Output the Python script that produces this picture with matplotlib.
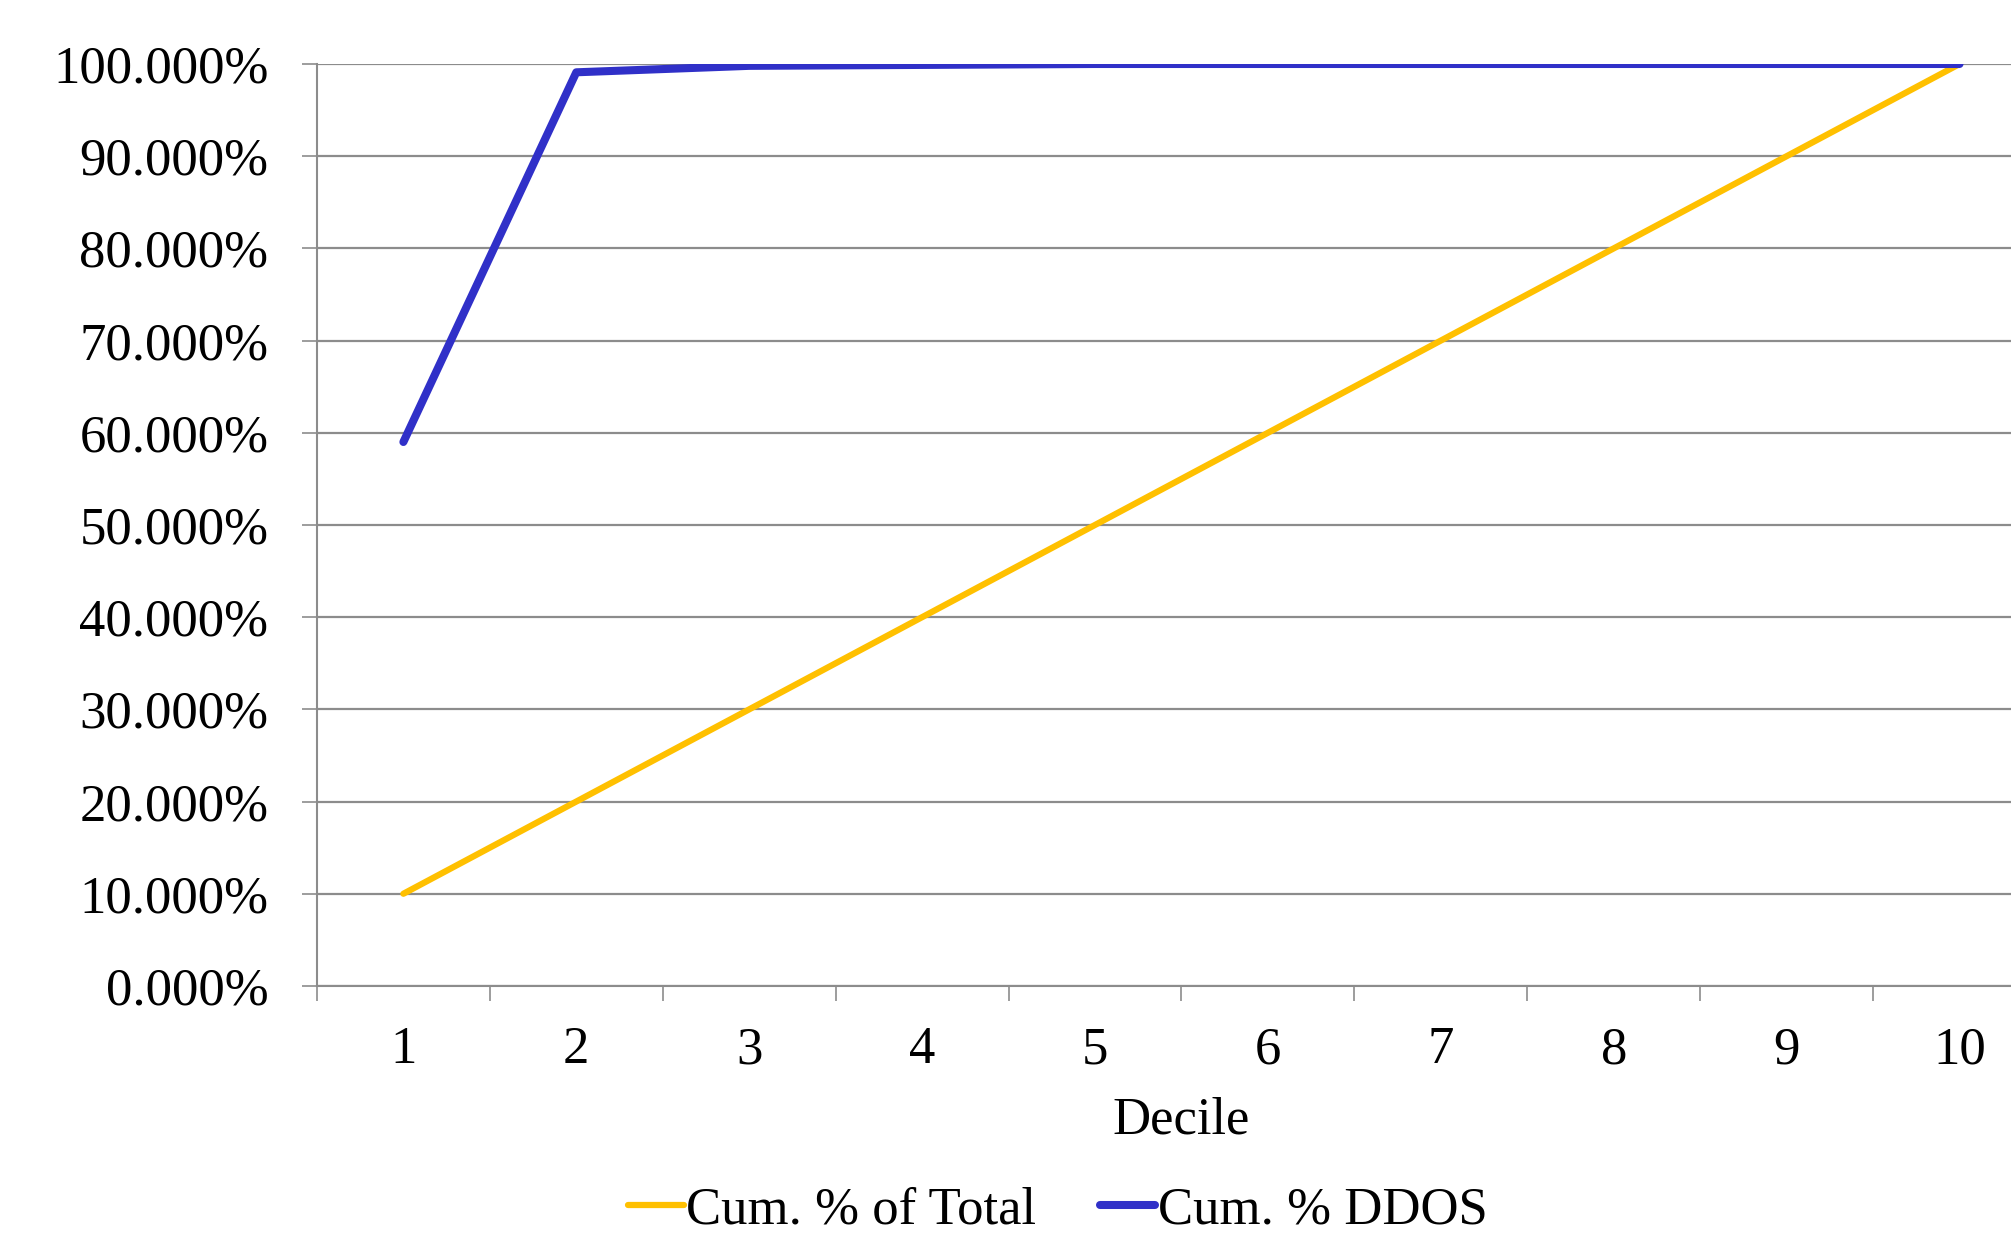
import matplotlib.pyplot as plt
from matplotlib.ticker import FuncFormatter, FixedLocator

plt.rcParams['font.family'] = ['Liberation Serif', 'DejaVu Serif']

# Cumulative shares by decile
deciles = ['1', '2', '3', '4', '5', '6', '7', '8', '9', '10']
cum_total = [10, 20, 30, 40, 50, 60, 70, 80, 90, 100]
cum_ddos = [59.0, 99.1, 99.8, 99.9, 100, 100, 100, 100, 100, 100]

grid_color = '#8c8c8c'

fig = plt.figure(figsize=(20.11, 12.38), dpi=100)
ax = fig.add_axes([0.1576, 0.2036, 0.8598, 0.7447])

x = list(range(1, len(deciles) + 1))
ax.plot(x, cum_total, color='#FFC000', lw=4.5, solid_capstyle='round',
        label='Cum. % of Total', zorder=3)
ax.plot(x, cum_ddos, color='#3030C8', lw=5.8, solid_capstyle='round',
        label='Cum. % DDOS', zorder=4)

ax.set_xlim(0.5, len(deciles) + 0.5)
ax.set_ylim(0, 100)

# category boundaries carry the tick marks, centres carry the labels
ax.xaxis.set_major_locator(FixedLocator([i + 0.5 for i in range(len(deciles) + 1)]))
ax.xaxis.set_minor_locator(FixedLocator(x))
ax.set_xticklabels([])
ax.set_xticklabels(deciles, minor=True)
ax.tick_params(axis='x', which='major', length=11, width=1.2, color=grid_color)
ax.tick_params(axis='x', which='minor', length=0, pad=29, labelsize=38)

ax.set_yticks(range(0, 101, 10))
ax.yaxis.set_major_formatter(FuncFormatter(lambda v, p: f'{v:.3f}%'))
ax.tick_params(axis='y', length=11, width=1.2, color=grid_color, pad=24,
               labelsize=38)

ax.grid(axis='y', color=grid_color, lw=1.6)
ax.set_axisbelow(True)
for side in ['top', 'right']:
    ax.spines[side].set_visible(False)
for side in ['left', 'bottom']:
    ax.spines[side].set_color(grid_color)
    ax.spines[side].set_linewidth(1.5)

ax.set_xlabel('Decile', fontsize=38, labelpad=16)

fig.legend(loc='center', bbox_to_anchor=(0.526, 0.022), ncol=2, frameon=False,
           fontsize=38, handlelength=1.05, handletextpad=0.05,
           columnspacing=1.2)

fig.savefig('out.png', dpi=100)
